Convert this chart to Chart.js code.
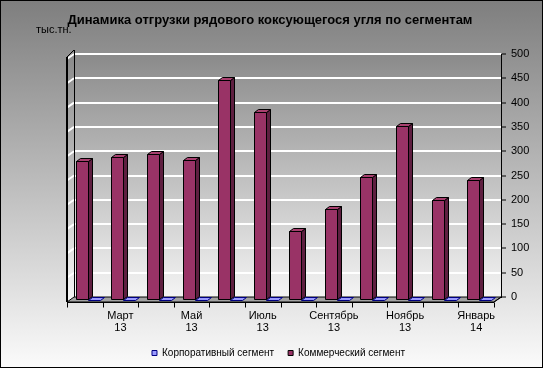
<!DOCTYPE html>
<html>
<head>
<meta charset="utf-8">
<script src="https://cdn.jsdelivr.net/npm/chart.js@4.4.1/dist/chart.umd.min.js"></script>
<style>
  html, body { margin: 0; padding: 0; background: #fff; }
</style>
</head>
<body>
<canvas id="myChart" width="543" height="368"></canvas>
<script>
const months = [
  ["Февраль", "13"], ["Март", "13"], ["Апрель", "13"], ["Май", "13"],
  ["Июнь", "13"], ["Июль", "13"], ["Август", "13"], ["Сентябрь", "13"],
  ["Октябрь", "13"], ["Ноябрь", "13"], ["Декабрь", "13"], ["Январь", "14"],
];
const corporate = [0, 0, 0, 0, 0, 0, 0, 0, 0, 0, 0, 0];
const commercial = [286, 294, 301, 288, 452, 386, 143, 187, 254, 358, 205, 246];
const yMin = 0;
const yMax = 500;
const yStep = 50;

const titleText = "Динамика отгрузки рядового коксующегося угля по сегментам";
const unitText = "тыс.тн.";

// 3d look: wall depth and bar depth
const DX = 7, DY = 5;
const BX = 4, BY = 3;

// commercial bars stand left of the corporate ones, legend shows corporate first
const faces = [
  { front: "#993366", side: "#5e1f40", top: "#a8406f", line: "#000000" },
  { front: "#9999ff", side: "#6b6bcc", top: "#9999ff", line: "#000080" },
];

function wallGradient(ctx, top, bottom) {
  const g = ctx.createLinearGradient(0, top, 0, bottom);
  g.addColorStop(0, "#8a8a8a");
  g.addColorStop(1, "#f4f4f4");
  return g;
}

const depthPlugin = {
  id: "depth",
  beforeDraw(chart) {
    const ctx = chart.ctx;
    const a = chart.chartArea;
    ctx.save();
    const bg = ctx.createLinearGradient(0, 0, 0, chart.height);
    bg.addColorStop(0, "#7e7e7e");
    bg.addColorStop(1, "#fbfbfb");
    ctx.fillStyle = bg;
    ctx.fillRect(0, 0, chart.width, chart.height);

    // back wall + left wall
    ctx.fillStyle = wallGradient(ctx, a.top, a.bottom);
    ctx.fillRect(a.left, a.top, a.right - a.left, a.bottom - a.top);
    ctx.beginPath();
    ctx.moveTo(a.left - DX, a.top + DY);
    ctx.lineTo(a.left, a.top);
    ctx.lineTo(a.left, a.bottom);
    ctx.lineTo(a.left - DX, a.bottom + DY);
    ctx.closePath();
    ctx.fill();

    // title and unit
    ctx.fillStyle = "#000";
    ctx.textBaseline = "alphabetic";
    ctx.font = "11px 'Liberation Sans', Arial, sans-serif";
    ctx.textAlign = "left";
    ctx.fillText(unitText, 36, 33);
    ctx.font = "bold 13px 'Liberation Sans', Arial, sans-serif";
    ctx.textAlign = "center";
    ctx.fillText(titleText, 270, 24);

    // frame
    ctx.strokeStyle = "#000";
    ctx.lineWidth = 1;
    ctx.strokeRect(0.5, 0.5, chart.width - 1, chart.height - 1);
    ctx.restore();
  },
  beforeDatasetsDraw(chart) {
    const ctx = chart.ctx;
    const a = chart.chartArea;
    const ys = chart.scales.y;
    const xs = chart.scales.x;
    ctx.save();
    // white grid marks on the left wall
    ctx.strokeStyle = "#ffffff";
    ctx.lineWidth = 2;
    ys.ticks.forEach((t) => {
      const y = ys.getPixelForValue(t.value);
      ctx.beginPath();
      ctx.moveTo(a.left - DX, y + DY);
      ctx.lineTo(a.left, y);
      ctx.stroke();
    });
    // wall edges
    ctx.strokeStyle = "#000";
    ctx.lineWidth = 2;
    ctx.beginPath();
    ctx.moveTo(a.left - DX, a.top + DY - 2);
    ctx.lineTo(a.left - DX, a.bottom + DY);
    ctx.stroke();
    ctx.lineWidth = 1;
    ctx.beginPath();
    ctx.moveTo(a.left + 0.5, a.top - 4);
    ctx.lineTo(a.left + 0.5, a.bottom);
    ctx.moveTo(a.left - DX, a.top + DY - 2);
    ctx.lineTo(a.left, a.top - 4);
    ctx.stroke();
    // floor
    ctx.beginPath();
    ctx.moveTo(a.left, a.bottom);
    ctx.lineTo(a.right, a.bottom);
    ctx.lineTo(a.right - DX, a.bottom + DY);
    ctx.lineTo(a.left - DX, a.bottom + DY);
    ctx.closePath();
    ctx.fillStyle = "#a2a2a2";
    ctx.fill();
    ctx.strokeStyle = "#000";
    ctx.stroke();
    // front category axis with ticks
    const yb = Math.round(a.bottom + DY) + 0.5;
    ctx.beginPath();
    ctx.moveTo(a.left - DX, yb);
    ctx.lineTo(a.right - DX, yb);
    const cw = (a.right - a.left) / months.length;
    for (let i = 0; i <= months.length; i++) {
      const x = Math.round(xs.getPixelForValue(0) - cw / 2 + i * cw - DX) + 0.5;
      ctx.moveTo(x, yb);
      ctx.lineTo(x, yb + 5);
    }
    ctx.stroke();
    ctx.restore();
  },
  beforeDatasetDraw() {
    return false;
  },
  afterDatasetsDraw(chart) {
    const ctx = chart.ctx;
    ctx.save();
    ctx.lineWidth = 1;
    for (let i = 0; i < months.length; i++) {
      chart.data.datasets.forEach((ds, d) => {
        const bar = chart.getDatasetMeta(d).data[i];
        const p = bar.getProps(["x", "y", "base", "width"], true);
        const f = faces[d];
        const x0 = Math.round(p.x - p.width / 2) + 0.5;
        const x1 = Math.round(p.x + p.width / 2) + 0.5;
        const top = Math.round(p.y) + 0.5;
        const base = Math.round(p.base) + 0.5;
        ctx.strokeStyle = f.line;
        if (base - top > 0) {
          // front
          ctx.fillStyle = f.front;
          ctx.beginPath();
          ctx.rect(x0 - BX, top + BY, x1 - x0, base - top);
          ctx.fill();
          ctx.stroke();
          // side
          ctx.fillStyle = f.side;
          ctx.beginPath();
          ctx.moveTo(x1 - BX, top + BY);
          ctx.lineTo(x1, top);
          ctx.lineTo(x1, base);
          ctx.lineTo(x1 - BX, base + BY);
          ctx.closePath();
          ctx.fill();
          ctx.stroke();
        }
        // top
        ctx.fillStyle = f.top;
        ctx.beginPath();
        ctx.moveTo(x0 - BX, top + BY);
        ctx.lineTo(x0, top);
        ctx.lineTo(x1, top);
        ctx.lineTo(x1 - BX, top + BY);
        ctx.closePath();
        ctx.fill();
        ctx.stroke();
      });
    }
    // slanted foot of the value axis
    const a = chart.chartArea;
    ctx.strokeStyle = "#000";
    ctx.beginPath();
    ctx.moveTo(a.right + 0.5, a.bottom);
    ctx.lineTo(a.right - DX, a.bottom + DY);
    ctx.stroke();
    ctx.restore();
  },
  afterLayout(chart) {
    // legend sits a bit left of the centre, like the original
    const lg = chart.legend;
    lg.left -= 29;
    lg.right -= 29;
  },
};

new Chart(document.getElementById("myChart"), {
  type: "bar",
  data: {
    labels: months,
    datasets: [
      {
        label: "Коммерческий сегмент",
        data: commercial,
        backgroundColor: faces[0].front,
        borderColor: faces[0].line,
        borderWidth: 1,
      },
      {
        label: "Корпоративный сегмент",
        data: corporate,
        backgroundColor: faces[1].front,
        borderColor: faces[1].line,
        borderWidth: 1,
      },
    ],
  },
  options: {
    responsive: false,
    animation: false,
    devicePixelRatio: 1,
    categoryPercentage: 0.675,
    barPercentage: 1,
    layout: { padding: { left: 74, top: 54, right: 2, bottom: 0 } },
    plugins: {
      title: { display: false },
      tooltip: { enabled: false },
      legend: {
        position: "bottom",
        reverse: true,
        labels: {
          boxWidth: 5,
          boxHeight: 5,
          padding: 14,
          color: "#000",
          font: { size: 10, family: "'Liberation Sans', Arial, sans-serif" },
        },
      },
    },
    scales: {
      x: {
        grid: { display: false, drawTicks: false },
        border: { display: false },
        afterFit(scale) { scale.height = 37; },
        ticks: {
          autoSkip: false,
          maxRotation: 0,
          padding: 13,
          labelOffset: -DX,
          color: "#000",
          font: { size: 11, family: "'Liberation Sans', Arial, sans-serif", lineHeight: 1.1 },
          callback: (v, i) => (i % 2 === 1 ? months[i] : ""),
        },
      },
      y: {
        position: "right",
        min: yMin,
        max: yMax,
        afterFit(scale) { scale.width = 40; },
        grid: {
          color: "#ffffff",
          lineWidth: 2,
          tickColor: "#000",
          tickWidth: 1,
          tickLength: 5,
        },
        border: { display: true, color: "#000", width: 1 },
        ticks: {
          stepSize: yStep,
          padding: 5,
          color: "#000",
          font: { size: 11, family: "'Liberation Sans', Arial, sans-serif" },
        },
      },
    },
  },
  plugins: [depthPlugin],
});
</script>
</body>
</html>
